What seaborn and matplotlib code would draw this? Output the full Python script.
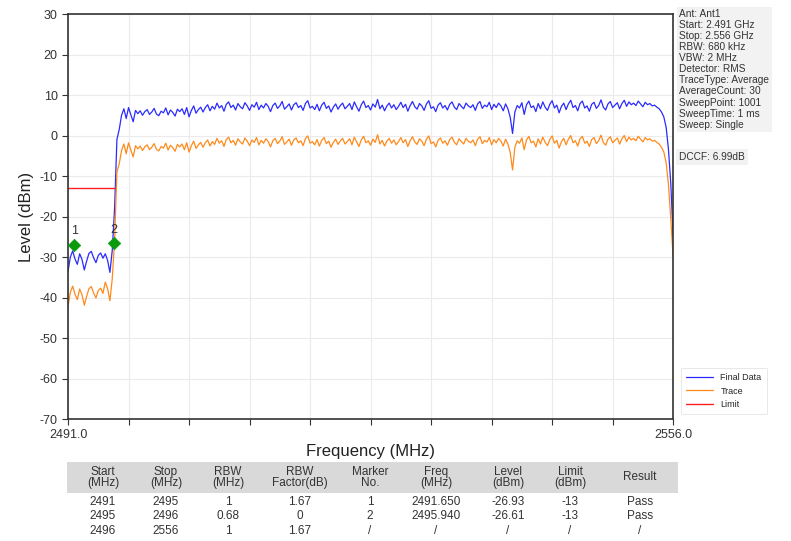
import numpy as np
import matplotlib
matplotlib.use("Agg")
import matplotlib.pyplot as plt
import seaborn as sns

# spectrum, 0.25 MHz steps from 2491 to 2556 MHz
f_start = 2491.0
f_stop = 2556.0
final_data = [
    -33.5, -30.0, -28.5, -30.5, -31.8, -29.2, -30.6, -33.2, -31.0, -29.1,
    -28.6, -30.2, -31.4, -29.6, -29.0, -30.3, -29.2, -30.8, -33.8, -28.4,
    -18.0, -1.0, 1.5, 5.0, 6.6, 4.2, 6.9, 5.1, 3.4, 6.2,
    5.4, 6.1, 5.0, 5.9, 6.4, 5.2, 5.8, 6.7, 5.3, 4.9,
    6.0, 5.6, 6.8, 5.1, 6.3, 5.7, 4.8, 6.5, 5.9, 6.6,
    5.2, 6.9, 4.6, 6.2, 7.3, 5.5, 6.4, 7.0, 5.8, 6.9,
    7.6, 6.1, 7.2, 6.5, 8.0, 6.8, 7.4, 6.0, 7.7, 8.3,
    6.9, 7.5, 6.3, 7.9, 7.1, 6.6, 8.1, 7.3, 6.2, 7.6,
    7.0, 8.2, 6.4, 7.5, 6.8, 7.9, 7.2, 5.9, 7.4, 8.0,
    6.7, 7.3, 8.4, 6.5, 7.1, 7.8, 6.3, 7.6, 8.1, 6.9,
    7.4, 6.2, 7.9, 8.6, 6.8, 7.2, 6.4, 7.7, 6.1, 7.5,
    8.2, 6.7, 7.3, 5.8, 7.0, 7.8, 6.5, 7.4, 8.0, 6.6,
    7.2, 7.9, 6.4, 8.3, 7.1, 6.0, 7.6, 8.5, 6.9, 7.4,
    6.3, 7.8, 7.0, 8.9, 6.6, 7.5, 6.1, 7.3, 8.0, 6.8,
    7.6, 6.4, 7.2, 8.2, 6.9, 7.7, 6.0, 7.4, 8.4, 7.1,
    6.5, 7.9, 7.3, 6.2, 7.8, 8.6, 6.7, 7.1, 5.9, 7.5,
    8.1, 6.8, 7.4, 6.3, 7.7, 8.3, 7.0, 6.4, 7.9, 7.2,
    6.6, 8.0, 7.3, 6.9, 7.6, 6.2, 7.8, 8.4, 6.7, 7.5,
    7.1, 8.2, 6.4, 7.7, 6.9, 8.0, 7.3, 6.1, 7.8, 6.6,
    4.5, 0.5, 5.8, 7.4, 6.8, 8.1, 5.2, 7.6, 8.5, 6.9,
    7.3, 5.9, 7.9, 6.6, 8.3, 7.0, 6.2, 7.7, 8.6, 6.8,
    7.5, 5.6, 7.2, 8.0, 6.4, 7.8, 8.7, 6.9, 7.4, 6.1,
    7.9, 8.5, 6.8, 7.3, 6.0, 7.7, 8.2, 6.7, 7.4, 8.8,
    7.0, 6.3, 7.8, 8.4, 6.9, 7.5, 8.1, 6.6, 7.9, 8.7,
    7.2, 8.3, 7.6, 8.0, 7.4, 8.5, 7.8, 7.1, 8.2, 7.6,
    7.9, 7.3, 7.5, 7.0, 6.6, 5.8, 4.6, 2.0, -3.5, -12.0,
    -25.0,
]
trace = [
    -42.2, -38.7, -37.2, -39.2, -40.5, -37.9, -39.3, -41.9, -39.7, -37.8,
    -37.3, -38.9, -40.1, -38.3, -37.7, -39.0, -36.2, -37.8, -40.8, -35.4,
    -26.0, -9.0, -7.0, -3.7, -2.1, -4.5, -1.8, -3.6, -5.3, -2.5,
    -3.3, -2.6, -3.7, -2.8, -2.3, -3.5, -2.9, -2.0, -3.4, -3.8,
    -2.7, -3.1, -1.9, -3.6, -2.4, -3.0, -3.9, -2.2, -2.8, -2.1,
    -3.5, -1.8, -4.1, -2.5, -1.4, -3.2, -2.3, -1.7, -2.9, -1.8,
    -1.1, -2.6, -1.5, -2.2, -0.7, -1.9, -1.3, -2.7, -1.0, -0.4,
    -1.8, -1.2, -2.4, -0.8, -1.6, -2.1, -0.6, -1.4, -2.5, -1.1,
    -1.7, -0.5, -2.3, -1.2, -1.9, -0.8, -1.5, -2.8, -1.3, -0.7,
    -2.0, -1.4, -0.3, -2.2, -1.6, -0.9, -2.4, -1.1, -0.6, -1.8,
    -1.3, -2.5, -0.8, -0.1, -1.9, -1.5, -2.3, -1.0, -2.6, -1.2,
    -0.5, -2.0, -1.4, -2.9, -1.7, -0.9, -2.2, -1.3, -0.7, -2.1,
    -1.5, -0.8, -2.3, -0.4, -1.6, -2.7, -1.1, -0.2, -1.8, -1.3,
    -2.4, -0.9, -1.7, 0.2, -2.1, -1.2, -2.6, -1.4, -0.7, -1.9,
    -1.1, -2.3, -1.5, -0.5, -1.8, -1.0, -2.7, -1.3, -0.3, -1.6,
    -2.2, -0.8, -1.4, -2.5, -0.9, -0.1, -2.0, -1.6, -2.8, -1.2,
    -0.6, -1.9, -1.3, -2.4, -1.0, -0.4, -1.7, -2.3, -0.8, -1.5,
    -2.1, -0.7, -1.4, -1.8, -1.1, -2.5, -0.9, -0.3, -2.0, -1.2,
    -1.6, -0.5, -2.3, -1.0, -1.8, -0.7, -1.4, -2.6, -0.9, -2.1,
    -4.2, -8.5, -2.9, -1.3, -1.9, -0.6, -3.5, -1.1, -0.2, -1.8,
    -1.4, -2.8, -0.8, -2.1, -0.4, -1.7, -2.5, -1.0, -0.1, -1.9,
    -1.2, -3.1, -1.5, -0.7, -2.3, -0.9, 0.0, -1.8, -1.3, -2.6,
    -0.8, -0.2, -1.9, -1.4, -2.7, -1.0, -0.5, -2.0, -1.3, 0.1,
    -1.7, -2.4, -0.9, -0.3, -1.8, -1.2, -0.6, -2.1, -0.8, 0.0,
    -1.5, -0.4, -1.1, -0.7, -1.3, -0.2, -0.9, -1.6, -0.5, -1.1,
    -0.8, -1.4, -1.2, -1.7, -2.1, -2.9, -4.1, -6.7, -12.2, -20.7,
    -30.0,
]
limit_freq = [2491.0, 2496.0]
limit_level = [-13.0, -13.0]
marker_no = ["1", "2"]
marker_freq = [2491.650, 2495.940]
marker_level = [-26.93, -26.61]

info_lines = [
    "Ant: Ant1", "Start: 2.491 GHz", "Stop: 2.556 GHz", "RBW: 680 kHz",
    "VBW: 2 MHz", "Detector: RMS", "TraceType: Average", "AverageCount: 30",
    "SweepPoint: 1001", "SweepTime: 1 ms", "Sweep: Single",
]
dccf_text = "DCCF: 6.99dB"

table_header = [
    "Start\n(MHz)", "Stop\n(MHz)", "RBW\n(MHz)", "RBW\nFactor(dB)", "Marker\nNo.",
    "Freq\n(MHz)", "Level\n(dBm)", "Limit\n(dBm)", "Result",
]
table_rows = [
    ["2491", "2495", "1", "1.67", "1", "2491.650", "-26.93", "-13", "Pass"],
    ["2495", "2496", "0.68", "0", "2", "2495.940", "-26.61", "-13", "Pass"],
    ["2496", "2556", "1", "1.67", "/", "/", "/", "/", "/"],
]

freq = np.linspace(f_start, f_stop, len(final_data))

sns.set_style("whitegrid")
plt.rcParams["font.family"] = ["Liberation Sans", "DejaVu Sans"]
plt.rcParams["axes.unicode_minus"] = False

fig = plt.figure(figsize=(7.91, 5.41), dpi=100)
ax = fig.add_axes([0.086, 0.2255, 0.765, 0.7486])

sns.lineplot(x=freq, y=final_data, ax=ax, color="#2b2bff", lw=0.9, label="Final Data")
sns.lineplot(x=freq, y=trace, ax=ax, color="#ff8a1c", lw=0.9, label="Trace")
sns.lineplot(x=limit_freq, y=limit_level, ax=ax, color="#ff2020", lw=1.0, label="Limit")
sns.scatterplot(x=marker_freq, y=marker_level, ax=ax, marker="D", color="#0a9a0a",
                s=40, edgecolor="#0a9a0a", zorder=5, legend=False)
for n, fx, ly in zip(marker_no, marker_freq, marker_level):
    ax.text(fx, ly + 1.8, n, ha="center", va="bottom", fontsize=9, color="#333333")

ax.set_xlim(f_start, f_stop)
ax.set_ylim(-70, 30)
ax.set_xticks(np.linspace(f_start, f_stop, 11))
ax.set_xticklabels(["2491.0"] + [""] * 9 + ["2556.0"], fontsize=9, color="#333333")
ax.set_yticks(range(-70, 31, 10))
ax.tick_params(axis="y", labelsize=9, colors="#333333", length=4, left=True)
ax.tick_params(axis="x", length=4, bottom=True, colors="#333333")
ax.grid(color="#ebebeb", lw=0.8)
for s in ax.spines.values():
    s.set_color("#333333")
    s.set_linewidth(1.2)
ax.set_xlabel("Frequency (MHz)", fontsize=12, color="#222222", labelpad=2)
ax.set_ylabel("Level (dBm)", fontsize=12, color="#222222", labelpad=4)

leg = ax.legend(loc="lower left", bbox_to_anchor=(1.005, 0.0), fontsize=6.5,
                frameon=True, handlelength=3, borderpad=0.6, labelspacing=0.5)
leg.get_frame().set_edgecolor("#dddddd")
leg.get_frame().set_linewidth(0.6)

fig.text(0.859, 0.983, "\n".join(info_lines), ha="left", va="top", fontsize=7.3,
         color="#333333", linespacing=1.13,
         bbox=dict(boxstyle="square,pad=0.25", fc="#f2f2f2", ec="none"))
fig.text(0.859, 0.71, dccf_text, ha="left", va="center", fontsize=7.3,
         color="#333333",
         bbox=dict(boxstyle="square,pad=0.3", fc="#f2f2f2", ec="none"))

# result table under the plot
narrow = ["Liberation Sans Narrow", "Liberation Sans", "DejaVu Sans"]
tx0, tx1 = 67 / 791, 678 / 791
tax = fig.add_axes([tx0, 1 - 539 / 541, tx1 - tx0, 77 / 541])
tax.set_xlim(67, 678)
tax.set_ylim(539, 462)
tax.axis("off")
col_x = [103, 166, 228, 300, 370, 436, 508, 570, 640]
tax.add_patch(plt.Rectangle((67, 462), 611, 31, color="#d9d9d9", lw=0))
for cx, h in zip(col_x, table_header):
    tax.text(cx, 477.5, h, ha="center", va="center", fontsize=8.5,
             color="#333333", linespacing=0.95, family=narrow)
for r, row in enumerate(table_rows):
    for cx, v in zip(col_x, row):
        tax.text(cx, 502 + r * 14.5, v, ha="center", va="center",
                 fontsize=8.5, color="#333333", family=narrow)

fig.savefig("out.png", dpi=100)
